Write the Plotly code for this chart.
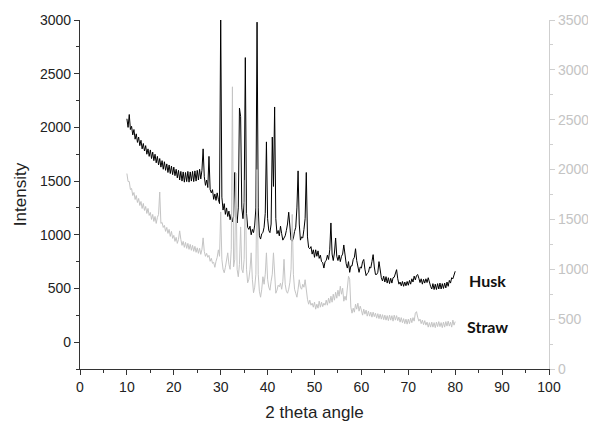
import numpy as np
import plotly.graph_objects as go

# 2-theta sampling grid (degrees)
two_theta = np.round(np.arange(10.0, 80.001, 0.25), 2)

# Husk intensity (left axis), 5 degrees per row
husk = [
    2080, 2000, 2120, 1980, 2010, 1930, 1980, 1890, 1940, 1860, 1910, 1830, 1880, 1800, 1850, 1780, 1830, 1750, 1800, 1730,
    1790, 1710, 1770, 1690, 1750, 1670, 1730, 1650, 1710, 1630, 1690, 1610, 1680, 1600, 1660, 1580, 1650, 1570, 1640, 1560,
    1630, 1550, 1610, 1530, 1600, 1510, 1590, 1500, 1585, 1490, 1580, 1495, 1590, 1490, 1585, 1500, 1590, 1495, 1595, 1500,
    1600, 1510, 1610, 1520, 1600, 1800, 1540, 1460, 1510, 1440, 1730, 1420, 1390, 1420, 1330, 1380, 1320, 1390, 1330, 1290,
    3050, 1350, 1230, 1290, 1190, 1250, 1170, 1220, 1140, 1190, 1120, 1170, 1580, 1180, 1110, 1250, 2180, 2100, 1250, 1150,
    1300, 2650, 1200, 1070, 1050, 1080, 1000, 1050, 1020, 1090, 1250, 2980, 1250, 990, 960, 1010, 1020, 1070, 1200, 1865,
    1150, 1040, 1020, 1100, 1910, 1450, 2190, 1150, 1010, 1040, 990, 1080, 1010, 950, 970, 990, 1040, 1100, 1210, 1050,
    950, 940, 970, 1030, 1070, 1250, 1595, 1100, 950, 980, 970, 1050, 1150, 1580, 980, 880, 870, 890, 820, 860,
    790, 860, 800, 850, 780, 810, 750, 740, 690, 750, 760, 810, 770, 860, 1110, 820, 760, 830, 970, 800,
    760, 810, 750, 800, 820, 905, 790, 730, 690, 750, 650, 710, 710, 770, 790, 870, 760, 700, 650, 700,
    690, 750, 770, 680, 620, 640, 650, 700, 690, 750, 815, 700, 630, 630, 650, 750, 660, 600, 570, 615,
    560, 610, 550, 600, 545, 595, 550, 600, 605, 645, 675, 590, 540, 560, 525, 565, 520, 560, 525, 565,
    530, 575, 540, 590, 560, 615, 580, 620, 630, 595, 555, 590, 540, 585, 550, 590, 555, 600, 545, 520,
    495, 545, 490, 540, 490, 545, 495, 550, 495, 545, 500, 550, 505, 560, 520, 575, 550, 600, 590, 640,
    660,
]

# Straw intensity (right axis), 5 degrees per row
straw = [
    1960, 1880, 1880, 1800, 1810, 1740, 1770, 1700, 1740, 1670, 1710, 1640, 1680, 1610, 1660, 1590, 1630, 1560, 1610, 1540,
    1570, 1500, 1550, 1480, 1530, 1460, 1520, 1550, 1775, 1460, 1470, 1420, 1440, 1380, 1420, 1360, 1400, 1330, 1380, 1310,
    1340, 1280, 1320, 1260, 1300, 1385, 1300, 1240, 1280, 1220, 1270, 1210, 1260, 1200, 1250, 1190, 1240, 1180, 1230, 1170,
    1215, 1160, 1210, 1150, 1200, 1315, 1180, 1130, 1160, 1120, 1140, 1080, 1110, 1060, 1070, 1020, 1080, 1120, 1195, 1130,
    1575, 1100, 1000, 965, 1020, 1090, 1165, 1050, 1000, 1200, 2830, 1025, 1100, 1965, 1000, 925, 1050, 1425, 1000, 965,
    1100, 1895, 1000, 865, 900, 1000, 1165, 900, 765, 820, 950, 2000, 950, 780, 720, 800, 925, 850, 950, 1165,
    900, 820, 790, 880, 950, 1165, 900, 760, 790, 840, 825, 860, 800, 880, 1100, 850, 780, 760, 800, 870,
    1000, 1550, 950, 800, 760, 720, 800, 895, 820, 800, 850, 820, 895, 780, 700, 650, 690, 640, 660, 620,
    670, 600, 650, 610, 680, 620, 670, 625, 660, 640, 690, 640, 710, 660, 730, 670, 750, 690, 770, 710,
    790, 730, 830, 750, 810, 680, 730, 690, 800, 930, 900, 620, 560, 610, 570, 650, 600, 660, 580, 630,
    590, 540, 600, 550, 590, 530, 580, 530, 570, 520, 570, 525, 560, 510, 555, 505, 550, 500, 545, 495,
    540, 490, 535, 485, 540, 490, 535, 480, 540, 490, 535, 485, 520, 470, 515, 465, 505, 455, 500, 450,
    500, 455, 510, 465, 515, 480, 560, 575, 520, 480, 500, 455, 490, 445, 485, 440, 470, 420, 465, 420,
    470, 420, 465, 415, 470, 425, 475, 425, 465, 415, 470, 420, 475, 430, 480, 430, 470, 420, 490, 440,
    475,
]

x_ticks = [0, 10, 20, 30, 40, 50, 60, 70, 80, 90, 100]
left_ticks = [0, 500, 1000, 1500, 2000, 2500, 3000]
right_ticks = [0, 500, 1000, 1500, 2000, 2500, 3000, 3500]
labels = ["Husk", "Straw"]

GREY_LINE = "#c4c4c4"
GREY_AXIS = "#cfcfcf"
FONT = "Liberation Sans, Arial, sans-serif"

fig = go.Figure()
fig.add_trace(go.Scatter(x=two_theta, y=straw, mode="lines", yaxis="y2",
                         line=dict(color=GREY_LINE, width=1), name=labels[1],
                         showlegend=False))
fig.add_trace(go.Scatter(x=two_theta, y=husk, mode="lines", yaxis="y",
                         line=dict(color="#000000", width=1), name=labels[0],
                         showlegend=False))

# the page body adds an 8px offset, so the figure is 8px smaller and margins shifted
fig.update_layout(
    template="none",
    width=588, height=417,
    margin=dict(l=72, r=47, t=12, b=56, autoexpand=False),
    paper_bgcolor="white", plot_bgcolor="white",
    font=dict(family=FONT, size=14, color="#222222"),
    xaxis=dict(
        automargin=False,
        range=[0, 100], tickvals=x_ticks, ticks="outside", ticklen=5,
        tickwidth=1, tickcolor="#333333",
        minor=dict(ticks="outside", dtick=5, ticklen=3, tickcolor="#333333"),
        showline=True, linecolor="#333333", linewidth=1.2,
        showgrid=False, zeroline=False,
        title=dict(text="2 theta angle", font=dict(size=17, family=FONT), standoff=12),
        tickfont=dict(size=14, family=FONT),
    ),
    xaxis2=dict(
        automargin=False,
        range=[0, 100], overlaying="x", side="top", anchor="y",
        tickvals=x_ticks, ticks="inside", ticklen=5, tickcolor="#333333",
        minor=dict(ticks="inside", dtick=5, ticklen=3, tickcolor="#333333"),
        showticklabels=False, showline=True, linecolor="#333333", linewidth=1.2,
        showgrid=False, zeroline=False,
    ),
    yaxis=dict(
        automargin=False,
        range=[-250, 3000], tickvals=left_ticks, ticks="outside", ticklen=5,
        tickcolor="#333333",
        minor=dict(ticks="outside", dtick=250, tick0=0, ticklen=3, tickcolor="#333333"),
        showline=True, linecolor="#333333", linewidth=1.2,
        showgrid=False, zeroline=False,
        title=dict(text="Intensity", font=dict(size=17, family=FONT), standoff=8),
        tickfont=dict(size=14, family=FONT),
    ),
    yaxis2=dict(
        automargin=False,
        range=[0, 3500], overlaying="y", side="right", anchor="x",
        tickvals=right_ticks, ticks="outside", ticklen=5, tickcolor=GREY_AXIS,
        minor=dict(ticks="outside", dtick=250, tick0=0, ticklen=3, tickcolor=GREY_AXIS),
        showline=True, linecolor=GREY_AXIS, linewidth=1.2,
        showgrid=False, zeroline=False,
        tickfont=dict(size=14, family=FONT, color="#c4c4c4"),
    ),
)

fig.add_annotation(x=86.8, y=573, xref="x", yref="y", text="<b>" + labels[0] + "</b>",
                   showarrow=False, font=dict(family="Lato, sans-serif", size=16, color="#111111"))
fig.add_annotation(x=86.8, y=424, xref="x", yref="y2", text="<b>" + labels[1] + "</b>",
                   showarrow=False, font=dict(family="Lato, sans-serif", size=16, color="#111111"))

fig.write_html("out.html")
